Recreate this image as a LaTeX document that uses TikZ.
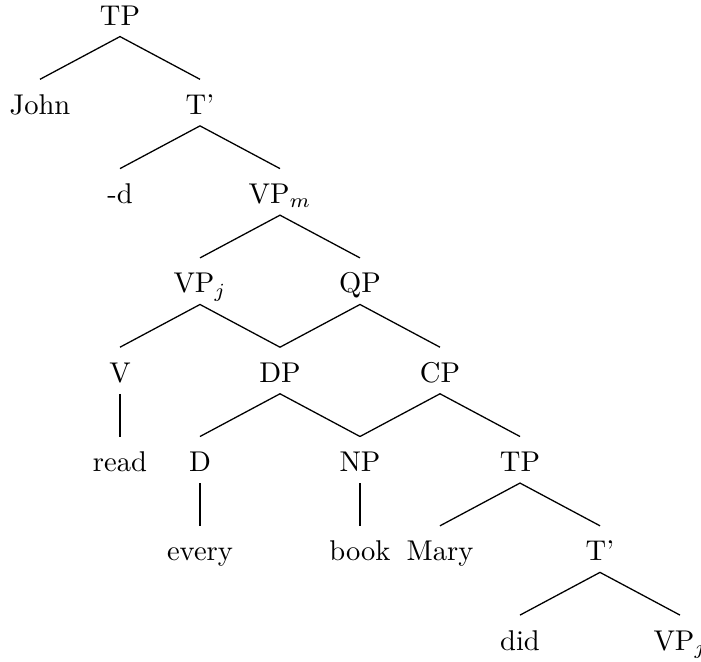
\documentclass[tikz,border=0pt]{standalone}
\begin{document}
\begin{tikzpicture}[x=0.35pt,y=-0.35pt,
  cat/.style={anchor=base, inner xsep=2pt, inner ysep=3.85pt,
              text height=8.2pt, text depth=0pt},
  branch/.style={line width=0.45pt}]
\useasboundingbox (0,0) rectangle (701,662);

% labels, one row per tree level
\node[cat] (tp)    at (120,25)    {TP};
\node[cat] (john)  at (40,114.3)  {John};
\node[cat] (tbar)  at (200,114.3) {T'};
\node[cat] (dsuf)  at (120,203.6) {-d};
\node[cat] (vpm)   at (280,203.6) {VP$_m$};
\node[cat] (vpj)   at (200,292.9) {VP$_j$};
\node[cat] (qp)    at (360,292.9) {QP};
\node[cat] (v)     at (120,382.2) {V};
\node[cat] (dp)    at (280,382.2) {DP};
\node[cat] (cp)    at (440,382.2) {CP};
\node[cat] (read)  at (120,471.5) {read};
\node[cat] (det)   at (200,471.5) {D};
\node[cat] (np)    at (360,471.5) {NP};
\node[cat] (tpb)   at (520,471.5) {TP};
\node[cat] (every) at (200,560.8) {every};
\node[cat] (book)  at (360,560.8) {book};
\node[cat] (mary)  at (440,560.8) {Mary};
\node[cat] (tbarb) at (600,560.8) {T'};
\node[cat] (did)   at (520,650.1) {did};
\node[cat] (vpjb)  at (680,650.1) {VP$_j$};

% branches (DP and NP are shared by two mothers)
\draw[branch] (john.north) -- (tp.south) -- (tbar.north);
\draw[branch] (dsuf.north) -- (tbar.south) -- (vpm.north);
\draw[branch] (vpj.north) -- (vpm.south) -- (qp.north);
\draw[branch] (v.north) -- (vpj.south) -- (dp.north);
\draw[branch] (dp.north) -- (qp.south) -- (cp.north);
\draw[branch] (v.south) -- (read.north);
\draw[branch] (det.north) -- (dp.south) -- (np.north);
\draw[branch] (np.north) -- (cp.south) -- (tpb.north);
\draw[branch] (det.south) -- (every.north);
\draw[branch] (np.south) -- (book.north);
\draw[branch] (mary.north) -- (tpb.south) -- (tbarb.north);
\draw[branch] (did.north) -- (tbarb.south) -- (vpjb.north);
\end{tikzpicture}
\end{document}
